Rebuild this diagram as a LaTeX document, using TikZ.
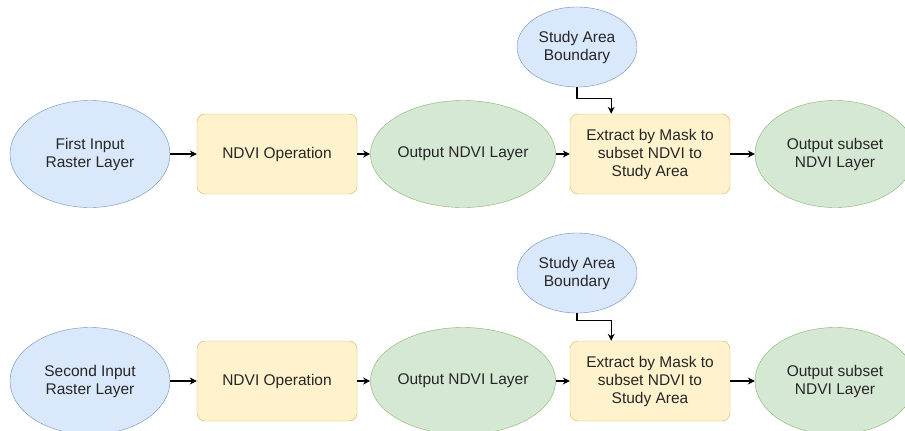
\documentclass[tikz,border=0pt]{standalone}
\usepackage{fontspec}
\setmainfont{Liberation Sans}
\usetikzlibrary{arrows.meta,calc,positioning}
\usetikzlibrary{shapes.geometric}

\definecolor{inblue}{HTML}{DAE8FC}
\definecolor{inblueline}{HTML}{6C8EBF}
\definecolor{opyellow}{HTML}{FFF2CC}
\definecolor{opyellowline}{HTML}{D6B656}
\definecolor{outgreen}{HTML}{D5E8D4}
\definecolor{outgreenline}{HTML}{82B366}

\begin{document}
\begin{tikzpicture}[x=1pt,y=-1pt,
		every node/.style={font=\fontsize{15.5}{18}\selectfont,text=black!85,align=center,inner sep=0pt},
		input node/.style={ellipse,draw=inblueline,fill=inblue,minimum width=160pt,minimum height=107pt},
		area node/.style={ellipse,draw=inblueline,fill=inblue,minimum width=120pt,minimum height=80pt},
		op node/.style={rectangle,rounded corners=8pt,draw=opyellowline,fill=opyellow,minimum width=160pt,minimum height=80pt},
		out node/.style={ellipse,draw=outgreenline,fill=outgreen,minimum width=160pt,minimum height=107pt},
		flow/.style={line width=1.3pt,-{Stealth[length=7pt,width=7pt]}}]
		\useasboundingbox (0,0) rectangle (905,431);
		
		% first row
		\node[input node] (in1) at (90,154) {First Input\\Raster Layer};
		\node[op node] (ndvi1) at (277,154) {NDVI Operation};
		\node[out node] (out1) at (463,154) {Output NDVI Layer};
		\node[area node] (sa1) at (577,47) {Study Area\\Boundary};
		\node[op node] (ex1) at (650,154) {Extract by Mask to\\subset NDVI to\\Study Area};
		\node[out node] (sub1) at (835,154) {Output subset\\NDVI Layer};
		\coordinate (ex1in) at ($(ex1.north west)!0.258!(ex1.north east)$);
		
		\draw[flow] (in1) -- (ndvi1);
		\draw[flow] (ndvi1) -- (out1);
		\draw[flow] (out1) -- (ex1);
		\draw[flow] (ex1) -- (sub1);
		\draw[flow] (sa1.south) -- ++(0,11) -| (ex1in);
		
		% second row
		\node[input node] (in2) at (90,381) {Second Input\\Raster Layer};
		\node[op node] (ndvi2) at (277,381) {NDVI Operation};
		\node[out node] (out2) at (463,381) {Output NDVI Layer};
		\node[area node] (sa2) at (577,273) {Study Area\\Boundary};
		\node[op node] (ex2) at (650,381) {Extract by Mask to\\subset NDVI to\\Study Area};
		\node[out node] (sub2) at (835,381) {Output subset\\NDVI Layer};
		\coordinate (ex2in) at ($(ex2.north west)!0.258!(ex2.north east)$);
		
		\draw[flow] (in2) -- (ndvi2);
		\draw[flow] (ndvi2) -- (out2);
		\draw[flow] (out2) -- (ex2);
		\draw[flow] (ex2) -- (sub2);
		\draw[flow] (sa2.south) -- ++(0,7) -| (ex2in);
		\end{tikzpicture}
\end{document}
